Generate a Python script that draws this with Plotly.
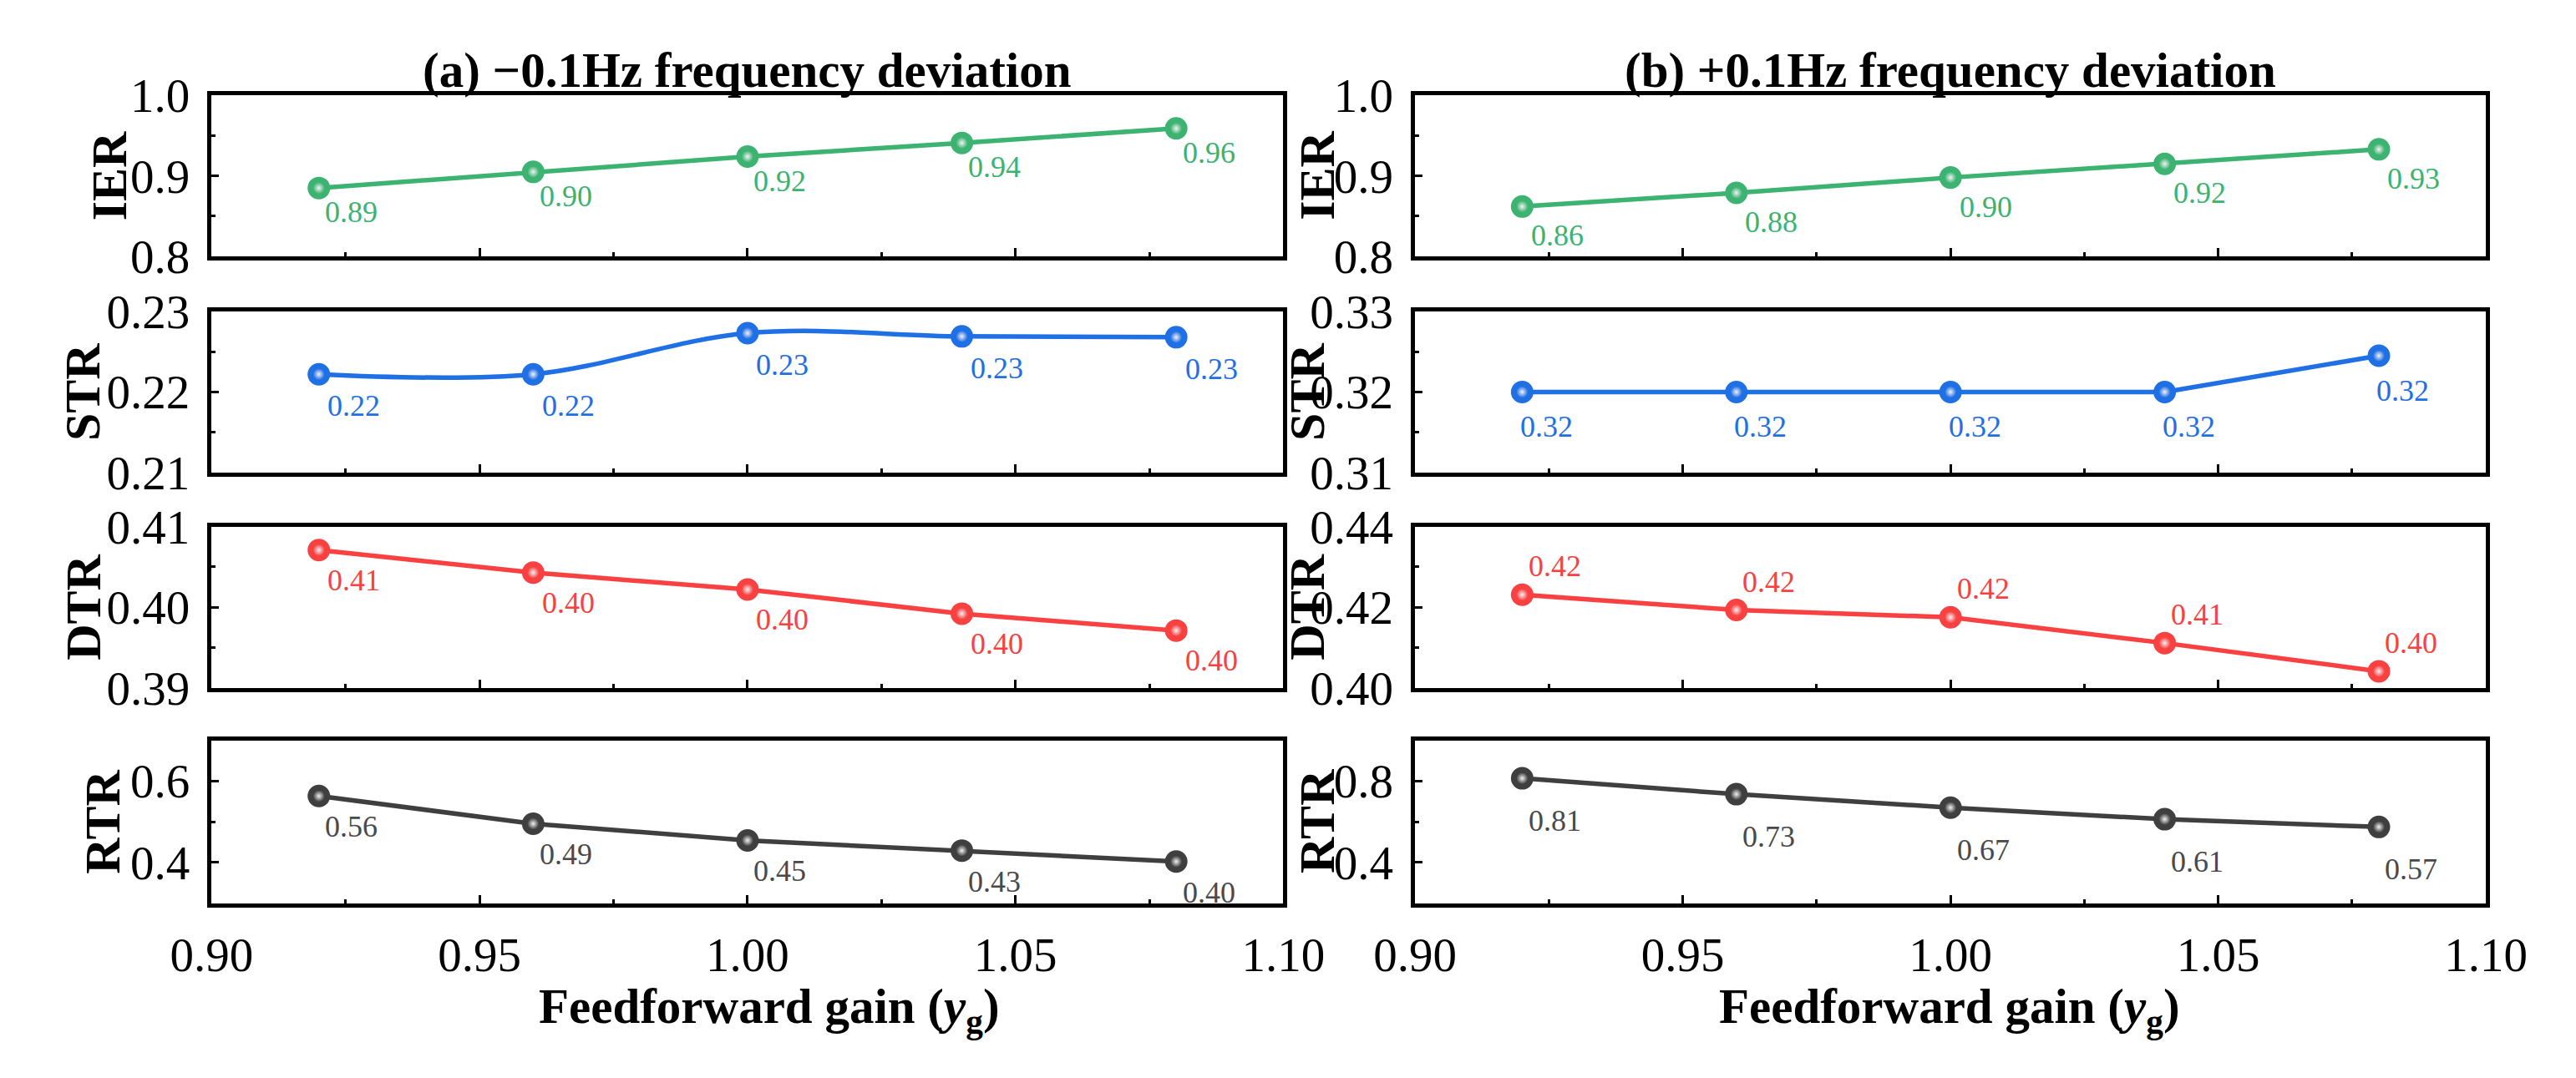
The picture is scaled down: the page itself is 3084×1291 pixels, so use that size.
import plotly.graph_objects as go

# feedforward gain (x) shared by every panel
gain = [0.92, 0.96, 1.00, 1.04, 1.08]

# (a) -0.1 Hz deviation
ier_neg = [0.885, 0.905, 0.924, 0.941, 0.959]
str_neg = [0.2222, 0.2222, 0.2273, 0.2269, 0.2268]
dtr_neg = [0.4071, 0.4043, 0.4022, 0.3992, 0.3971]
rtr_neg = [0.563, 0.495, 0.454, 0.429, 0.402]

ier_neg_lbl = ["0.89", "0.90", "0.92", "0.94", "0.96"]
str_neg_lbl = ["0.22", "0.22", "0.23", "0.23", "0.23"]
dtr_neg_lbl = ["0.41", "0.40", "0.40", "0.40", "0.40"]
rtr_neg_lbl = ["0.56", "0.49", "0.45", "0.43", "0.40"]

# (b) +0.1 Hz deviation
ier_pos = [0.862, 0.879, 0.898, 0.915, 0.933]
str_pos = [0.3200, 0.3200, 0.3200, 0.3200, 0.3245]
dtr_pos = [0.4231, 0.4193, 0.4175, 0.4111, 0.4041]
rtr_pos = [0.813, 0.735, 0.669, 0.612, 0.574]

ier_pos_lbl = ["0.86", "0.88", "0.90", "0.92", "0.93"]
str_pos_lbl = ["0.32", "0.32", "0.32", "0.32", "0.32"]
dtr_pos_lbl = ["0.42", "0.42", "0.42", "0.41", "0.40"]
rtr_pos_lbl = ["0.81", "0.73", "0.67", "0.61", "0.57"]

W, H = 3084, 1291
FONT = "Liberation Serif"

GREEN = "#3CB371"
BLUE = "#1F6FE5"
RED = "#F94141"
GRAY = "#3F3F3F"
GRAY_TXT = "#4A4A4A"

# pixel boxes of the plot areas
cols = [(202, 1528), (1691, 3016)]
rows = [(79, 282), (351, 554), (622, 825), (891, 1096)]

# panel setup: values, labels, colour, label colour, title, y range, dtick, minor, fmt,
# label shift, line shape, title x(px)
panels = [
    # left column
    (ier_neg, ier_neg_lbl, GREEN, GREEN, "IER", [0.7999, 1.0001], 0.1, 0.05, ".1f", (39, -29), "linear", 75),
    (str_neg, str_neg_lbl, BLUE, BLUE, "STR", [0.20999, 0.23001], 0.01, 0.005, ".2f", (42, -38), "spline", 43),
    (dtr_neg, dtr_neg_lbl, RED, RED, "DTR", [0.38999, 0.41001], 0.01, 0.005, ".2f", (42, -36), "linear", 44),
    (rtr_neg, rtr_neg_lbl, GRAY, GRAY_TXT, "RTR", [0.3, 0.7], 0.2, 0.1, ".1f", (39, -37), "linear", 67),
    # right column
    (ier_pos, ier_pos_lbl, GREEN, GREEN, "IER", [0.7999, 1.0001], 0.1, 0.05, ".1f", (42, -35), "linear", 1570),
    (str_pos, str_pos_lbl, BLUE, BLUE, "STR", [0.30999, 0.33001], 0.01, 0.005, ".2f", (29, -42), "linear", 1558),
    (dtr_pos, dtr_pos_lbl, RED, RED, "DTR", [0.39999, 0.44001], 0.02, 0.01, ".2f", (39, 34), "linear", 1558),
    (rtr_pos, rtr_pos_lbl, GRAY, GRAY_TXT, "RTR", [0.2, 1.0], 0.4, 0.2, ".1f", (39, -51), "linear", 1570),
]

fig = go.Figure()
annotations = []
layout = {}

for i, (vals, lbls, color, tcolor, name, yr, dt, mdt, fmt, shift, shape, tx) in enumerate(panels):
    c = i // 4
    r = i % 4
    n = i + 1
    xa = "x" if n == 1 else "x%d" % n
    ya = "y" if n == 1 else "y%d" % n
    x0, x1 = cols[c]
    y0, y1 = rows[r]

    # line with solid ball markers
    fig.add_trace(go.Scatter(
        x=gain, y=vals, xaxis=xa, yaxis=ya, mode="lines+markers",
        line=dict(color=color, width=5.5, shape=shape, smoothing=1.0),
        marker=dict(size=27, color=color),
        showlegend=False, hoverinfo="skip",
    ))
    # soft highlight on each ball
    fig.add_trace(go.Scatter(
        x=gain, y=vals, xaxis=xa, yaxis=ya, mode="markers",
        marker=dict(size=14, color=color,
                    gradient=dict(type="radial", color="#f2f2f2")),
        showlegend=False, hoverinfo="skip",
    ))

    for xv, yv, t in zip(gain, vals, lbls):
        annotations.append(dict(
            x=xv, y=yv, xref=xa, yref=ya, text=t, showarrow=False,
            xshift=shift[0], yshift=shift[1],
            font=dict(family=FONT, size=36, color=tcolor),
        ))

    # y title
    annotations.append(dict(
        x=tx / W, y=1 - (y0 + y1) / 2 / H, xref="paper", yref="paper",
        text="<b>%s</b>" % name, textangle=-90, showarrow=False,
        xanchor="center", yanchor="middle",
        font=dict(family=FONT, size=60, color="black"),
    ))

    bottom = (r == 3)
    layout["xaxis" if n == 1 else "xaxis%d" % n] = dict(
        domain=[x0 / W, x1 / W], anchor=ya, range=[0.9, 1.1],
        dtick=0.05, tick0=0.9, tickformat=".2f",
        ticks="inside", ticklen=10, tickwidth=3, tickcolor="black",
        minor=dict(dtick=0.025, ticks="inside", ticklen=5, tickwidth=3, tickcolor="black"),
        showticklabels=bottom, ticklabelstandoff=8,
        tickfont=dict(family=FONT, size=57, color="black"),
        showline=True, linewidth=4.5, linecolor="black", mirror=True,
        showgrid=False, zeroline=False,
    )
    layout["yaxis" if n == 1 else "yaxis%d" % n] = dict(
        domain=[1 - y1 / H, 1 - y0 / H], anchor=xa, range=yr,
        dtick=dt, tick0=0, tickformat=fmt,
        ticks="inside", ticklen=9, tickwidth=3, tickcolor="black",
        minor=dict(dtick=mdt, ticks="inside", ticklen=5, tickwidth=3, tickcolor="black"),
        ticklabelstandoff=10,
        tickfont=dict(family=FONT, size=57, color="black"),
        showline=True, linewidth=4.5, linecolor="black", mirror=True,
        showgrid=False, zeroline=False,
    )

# column titles
titles = ["<b>(a) \u22120.1Hz frequency deviation</b>", "<b>(b) +0.1Hz frequency deviation</b>"]
for (x0, x1), t in zip(cols, titles):
    annotations.append(dict(
        x=(x0 + x1) / 2 / W, y=1 - 47 / H, xref="paper", yref="paper",
        text=t, showarrow=False, xanchor="center", yanchor="middle",
        font=dict(family=FONT, size=59, color="black"),
    ))

# x titles
for xc in [892, 2352]:
    annotations.append(dict(
        x=xc / W, y=1 - 1230 / H, xref="paper", yref="paper",
        text="<b>Feedforward gain (<i>y</i><sub>g</sub>)</b>", showarrow=False,
        xanchor="center", yanchor="middle",
        font=dict(family=FONT, size=59, color="black"),
    ))

fig.update_layout(
    width=W, height=H,
    margin=dict(l=0, r=0, t=0, b=0),
    paper_bgcolor="white", plot_bgcolor="white",
    annotations=annotations,
    **layout,
)

fig.write_html("out.html")
